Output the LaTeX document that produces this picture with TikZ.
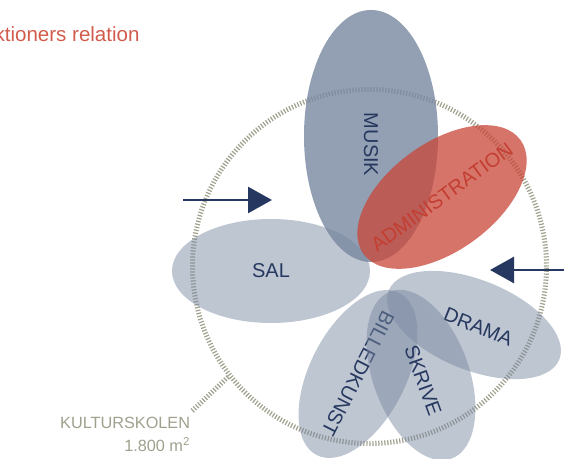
\documentclass[tikz,border=0pt]{standalone}
\usepackage{fontspec}
\setmainfont{Liberation Sans}
\usetikzlibrary{shapes.geometric,arrows.meta}

\definecolor{navy}{RGB}{38,56,95}
\definecolor{slate}{RGB}{120,135,160}
\definecolor{rust}{RGB}{200,70,55}
\definecolor{rusttext}{RGB}{196,62,50}
\definecolor{titlered}{RGB}{210,92,76}
\definecolor{olive}{RGB}{160,160,142}

\tikzset{every picture/.style={line width=0.75pt}}
\tikzset{
  blob/.style={ellipse, inner sep=0pt, fill=slate, fill opacity=0.48, text opacity=1,
    text=navy, font=\fontsize{15}{18}\selectfont},
  ticks/.style={draw=olive, line width=3.75pt, dash pattern=on 0.9pt off 1.35pt},
  pil/.style={draw=navy, line width=2pt, -{Triangle[length=18pt,width=19.5pt]}},
}

\begin{document}
\begin{tikzpicture}[x=0.75pt,y=0.75pt,yscale=-1,xscale=1]
\useasboundingbox (0,0) rectangle (564,459);

% Text Node
\draw (4,7) node [anchor=base east, text=titlered, font=\fontsize{15}{18}\selectfont] (nr) {2};
% Text Node
\draw (144.5,42) node [anchor=base east, text=titlered, font=\fontsize{15.4}{18}\selectfont] (titel) {ktioners relation};

%Shape: Circle [id:skole]
\node [circle, ticks, minimum size=265.5pt, inner sep=0pt] (skole) at (369.5,266.5) {};
\coordinate (lead) at (192,411);
%Straight Lines [id:leder]
\draw [ticks] (skole.218) -- (lead);

%Shape: Ellipse [id:sal]
\node [blob, minimum width=148.5pt, minimum height=78pt] (sal) at (271,271) {\makebox[0pt]{SAL}};
%Shape: Ellipse [id:musik]
\node [blob, fill opacity=0.8, rotate=-90, minimum width=189pt, minimum height=100.5pt] (musik) at (371,136) {\makebox[0pt]{\hspace{13pt}MUSIK}};
%Shape: Ellipse [id:admin]
\node [blob, fill=rust, fill opacity=0.75, text=rusttext, rotate=36, minimum width=145.5pt, minimum height=81pt] (admin) at (442,197) {\makebox[0pt]{ADMINISTRATION}};
%Shape: Ellipse [id:drama]
\node [blob, rotate=-22, minimum width=138pt, minimum height=67.5pt] (drama) at (474,325) {\makebox[0pt]{\hspace{7pt}DRAMA}};
%Shape: Ellipse [id:billed]
\node [blob, rotate=-117, minimum width=136.5pt, minimum height=72pt] (billed) at (358,374) {\makebox[0pt]{BILLEDKUNST}};
%Shape: Ellipse [id:skrive]
\node [blob, rotate=-70, minimum width=133.5pt, minimum height=72pt] (skrive) at (421,375) {\makebox[0pt]{\hspace{9pt}SKRIVE}};

%Straight Lines [id:pilV]
\coordinate (pilA) at (183,200);
\coordinate (pilAe) at (272,200);
\draw [pil] (pilA) -- (pilAe);
%Straight Lines [id:pilH]
\coordinate (pilB) at (566,270);
\coordinate (pilBe) at (490,270);
\draw [pil] (pilB) -- (pilBe);

% Text Node
\draw (195,428) node [anchor=base east, text=olive, font=\fontsize{12.2}{14}\selectfont] (kultur) {KULTURSKOLEN};
% Text Node
\draw (195,451) node [anchor=base east, text=olive, font=\fontsize{12.2}{14}\selectfont] (areal) {1.800 m\textsuperscript{2}};

\end{tikzpicture}
\end{document}
